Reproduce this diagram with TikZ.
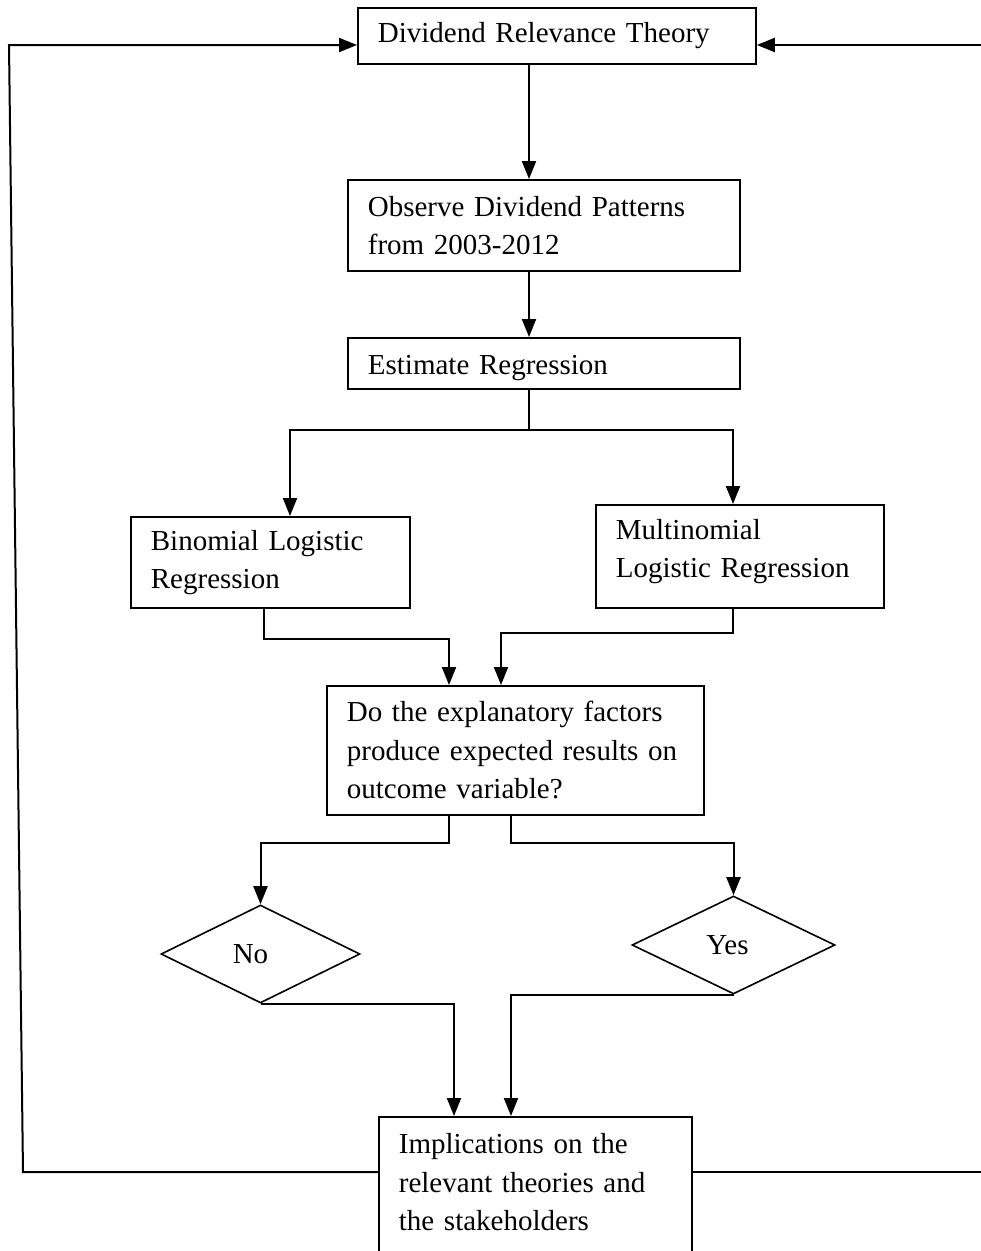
\documentclass[tikz,border=0pt]{standalone}
\usepackage{fontspec}
\setmainfont{Liberation Serif}
\usetikzlibrary{arrows.meta,shapes.geometric}
\begin{document}
\begin{tikzpicture}[x=1pt,y=-1pt,
  every node/.style={font=\fontsize{29}{38.5}\selectfont},
  boxnode/.style={draw, line width=1.8pt, rectangle, anchor=north west, align=left, inner xsep=20pt, inner ysep=2pt},
  dia/.style={draw, diamond, line width=1.6pt, inner sep=0pt},
  arr/.style={line width=2pt, -{Triangle[length=18pt,width=14pt]}},
  ln/.style={line width=2pt},
  thinln/.style={line width=1.3pt}]
\useasboundingbox (0,0) rectangle (981,1251);
\fill[white] (0,0) rectangle (981,1251);
\clip (0,0) rectangle (981,1251);

% boxes
\node[boxnode, text width=358pt, minimum height=56pt] (top) at (357,7) {Dividend Relevance Theory};
\node[boxnode, text width=352pt, minimum height=91pt] (obs) at (347,179) {Observe Dividend Patterns\\from 2003-2012};
\node[boxnode, text width=352pt, minimum height=51pt] (est) at (347,337) {\rule{0pt}{28pt}Estimate Regression};
\node[boxnode, text width=239pt, minimum height=91pt] (bin) at (130,516) {Binomial Logistic\\Regression};
\node[boxnode, text width=248pt, minimum height=103pt] (mult) at (595,504) {Multinomial\\Logistic Regression\rule[-16pt]{0pt}{1pt}};
\node[boxnode, text width=337pt, minimum height=129pt] (q) at (326,685) {Do the explanatory factors\\produce expected results on\\outcome variable?};
\node[dia, minimum width=199pt, minimum height=98pt] (no) at (260.5,954) {No\hspace*{20pt}};
\node[dia, minimum width=203pt, minimum height=98pt] (yes) at (733.5,945) {Yes\hspace*{12pt}};
\node[boxnode, text width=273pt, inner ysep=4pt] (impl) at (378,1116) {\parbox[t][200pt][t]{273pt}{\raggedright\rule{0pt}{33pt}Implications on the\\relevant theories and\\the stakeholders}};

% helper coordinates
\coordinate (sp) at (529,0);
\coordinate (br) at (529,430);
\coordinate (bl) at (290,430);
\coordinate (brr) at (733,430);
\coordinate (b1) at (264,639);
\coordinate (qa) at (449,639);
\coordinate (qb) at (501,633);
\coordinate (qc) at (449,843);
\coordinate (qd) at (511,843);
\coordinate (na) at (454,0);
\coordinate (ya) at (511,0);
\coordinate (fbB) at (23,1172);
\coordinate (fbT) at (9,45);
\coordinate (fbR) at (995,1172);
\coordinate (fbRT) at (995,45);

% connectors
\draw[arr] (top.south -| sp) -- (obs.north -| sp);
\draw[arr] (obs.south -| sp) -- (est.north -| sp);
\draw[thinln] (est.south -| sp) -- (br);
\draw[arr] (br) -| (bin.north -| bl);
\draw[arr] (br) -| (mult.north -| brr);
\draw[arr] (bin.south -| b1) |- (qa) -- (q.north -| qa);
\draw[arr] (mult.south -| brr) |- (qb) -- (q.north -| qb);
\draw[arr] (q.south -| qc) -- (qc) -| (no.north);
\draw[arr] (q.south -| qd) -- (qd) -| (yes.north);
\draw[arr] (no.south) -- (no.south -| na) -- (impl.north -| na);
\draw[arr] (yes.south) -- (yes.south -| ya) -- (impl.north -| ya);
\draw[arr] (impl.west |- fbB) -- (fbB) -- (fbT) -- (top.west |- fbT);
\draw[arr] (impl.east |- fbR) -- (fbR) -- (fbRT) -- (top.east |- fbRT);
\end{tikzpicture}
\end{document}
